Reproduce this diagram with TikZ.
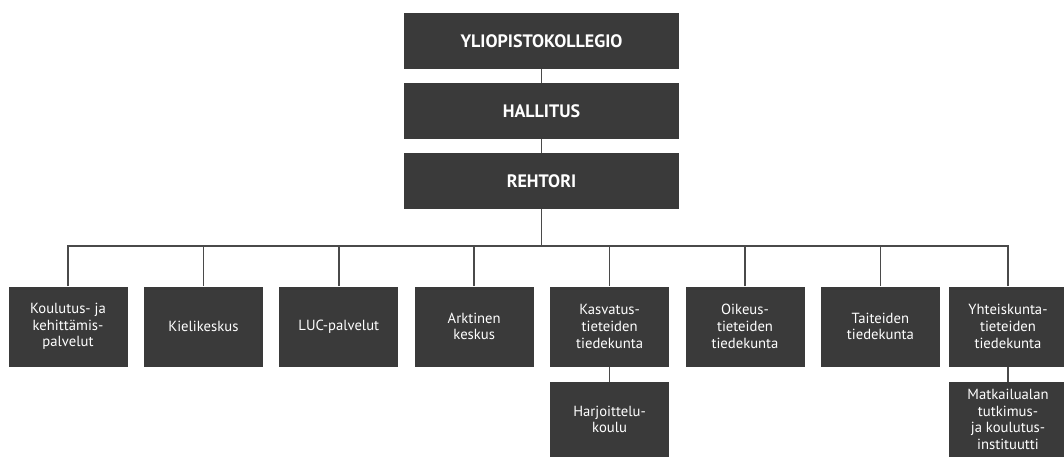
\documentclass[tikz,border=0pt]{standalone}
\usepackage{fontspec}
\setmainfont{PT Sans}
\begin{document}
\begin{tikzpicture}[x=0.75pt,y=-0.75pt,
  box/.style={fill=boxgray,draw=none,text=white,align=center,inner sep=0pt},
  topbox/.style={box,minimum width=206.25pt,minimum height=42pt,font=\bfseries\fontsize{13.5}{16}\selectfont},
  unitbox/.style={box,minimum width=89.25pt,minimum height=60pt,font=\fontsize{11}{12.5}\selectfont},
  subbox/.style={box,minimum width=89.25pt,minimum height=56.25pt,font=\fontsize{11}{12.5}\selectfont},
  conn/.style={draw=linegray,line width=1.1pt}]
\definecolor{boxgray}{HTML}{3A3A3A}
\definecolor{linegray}{HTML}{4A4A4A}
\useasboundingbox (0,0) rectangle (1064,457);
\node[topbox] (yk) at (541.5,41) {YLIOPISTOKOLLEGIO};
\node[topbox] (ha) at (541.5,111) {HALLITUS};
\node[topbox] (re) at (541.5,181) {REHTORI};
\coordinate (bus) at (541.5,246);
\node[unitbox] (u1) at (68,326.5) {Koulutus- ja\\kehittämis-\\palvelut};
\node[unitbox] (u2) at (203.4,326.5) {Kielikeskus};
\node[unitbox] (u3) at (338.8,326.5) {LUC-palvelut};
\node[unitbox] (u4) at (474.2,326.5) {Arktinen\\keskus};
\node[unitbox] (u5) at (609.6,326.5) {Kasvatus-\\tieteiden\\tiedekunta};
\node[unitbox] (u6) at (745,326.5) {Oikeus-\\tieteiden\\tiedekunta};
\node[unitbox] (u7) at (880.4,326.5) {Taiteiden\\tiedekunta};
\node[unitbox] (u8) at (1008,326.5) {Yhteiskunta-\\tieteiden\\tiedekunta};
\node[subbox] (s5) at (609.6,419.5) {Harjoittelu-\\koulu};
\node[subbox] (s8) at (1008,419.5) {Matkailualan\\tutkimus-\\ja koulutus-\\instituutti};
\draw[conn] (yk.south) -- (ha.north);
\draw[conn] (ha.south) -- (re.north);
\draw[conn] (re.south) -- (bus);
\foreach \u in {u1,u2,u3,u4,u5,u6,u7,u8} \draw[conn] (\u.north) |- (bus);
\draw[conn] (u5.south) -- (s5.north);
\draw[conn] (u8.south) -- (s8.north);
\end{tikzpicture}
\end{document}
